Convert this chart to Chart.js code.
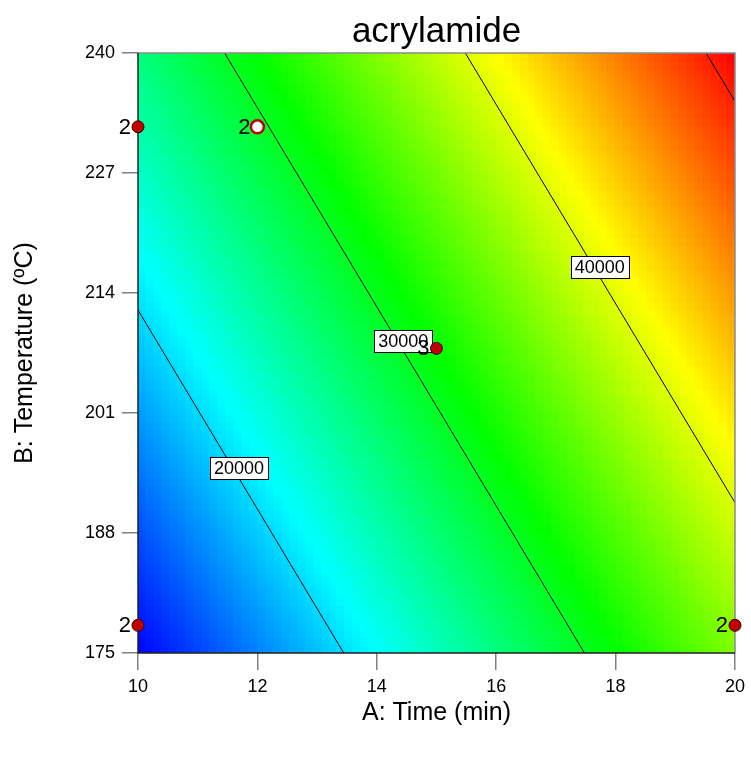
<!DOCTYPE html>
<html lang="en">
<head>
<meta charset="UTF-8" />
<title>acrylamide</title>
<script src="https://cdn.jsdelivr.net/npm/chart.js"></script>
<style>
    html, body { margin: 0; padding: 0; background: #fff; }
    #wrap { width: 751px; height: 784px; }
</style>
</head>
<body>
<div id="wrap"><canvas id="contourChart" width="751" height="784"></canvas></div>
<script>
// design runs: A = time (min), B = temperature (ºC), replicate count at each run
const runTime = [10, 12, 15, 10, 20];
const runTemp = [232, 232, 208, 178, 178];
const runReps = ['2', '2', '3', '2', '2'];
const runHollow = [false, true, false, false, false];

// fitted linear model: intercept, A coefficient, B coefficient
const fitCoef = [-53596, 2480, 230];
const contourLevels = [20000, 30000, 40000, 50000];
const labelledLevels = [20000, 30000, 40000];

const timeTicks = [10, 12, 14, 16, 18, 20];
const tempTicks = [175, 188, 201, 214, 227, 240];

const FONT = 'Arial, "Liberation Sans", Helvetica, sans-serif';

function fit(a, b) {
    return fitCoef[0] + fitCoef[1] * a + fitCoef[2] * b;
}

// blue -> cyan -> green -> yellow -> red
const rampStops = [[0, 0, 255], [0, 255, 255], [0, 255, 0], [255, 255, 0], [255, 0, 0]];
function rampColor(t) {
    t = Math.min(1, Math.max(0, t)) * (rampStops.length - 1);
    const i = Math.min(rampStops.length - 2, Math.floor(t));
    const f = t - i;
    const c = rampStops[i].map((v, k) => Math.round(v + (rampStops[i + 1][k] - v) * f));
    return `rgb(${c[0]},${c[1]},${c[2]})`;
}

// where a contour level crosses the edges of the design space
function contourSegment(level) {
    const [c, ka, kb] = fitCoef;
    const aMin = timeTicks[0], aMax = timeTicks[timeTicks.length - 1];
    const bMin = tempTicks[0], bMax = tempTicks[tempTicks.length - 1];
    const pts = [];
    [bMin, bMax].forEach(b => {
        const a = (level - c - kb * b) / ka;
        if (a >= aMin && a <= aMax) pts.push({ x: a, y: b });
    });
    [aMin, aMax].forEach(a => {
        const b = (level - c - ka * a) / kb;
        if (b > bMin && b < bMax) pts.push({ x: a, y: b });
    });
    return pts.sort((p, q) => q.y - p.y).slice(0, 2);
}

// temperature at which each contour label sits on its line
const labelTemp = { 20000: 195, 30000: 208.8, 40000: 216.8 };

const surfacePlugin = {
    id: 'surface',
    beforeDatasetsDraw(chart) {
        const { ctx, chartArea, scales: { x, y } } = chart;
        const n = 75;
        const da = (x.max - x.min) / n, db = (y.max - y.min) / n;
        const lo = fit(x.min, y.min), hi = fit(x.max, y.max);
        ctx.save();
        ctx.beginPath();
        ctx.rect(chartArea.left, chartArea.top, chartArea.right - chartArea.left, chartArea.bottom - chartArea.top);
        ctx.clip();
        for (let i = 0; i < n; i++) {
            const a0 = x.min + i * da;
            const px0 = Math.floor(x.getPixelForValue(a0));
            const px1 = Math.ceil(x.getPixelForValue(a0 + da));
            for (let j = 0; j < n; j++) {
                const b0 = y.min + j * db;
                const py0 = Math.floor(y.getPixelForValue(b0 + db));
                const py1 = Math.ceil(y.getPixelForValue(b0));
                ctx.fillStyle = rampColor((fit(a0 + da / 2, b0 + db / 2) - lo) / (hi - lo));
                ctx.fillRect(px0, py0, px1 - px0, py1 - py0);
            }
        }
        ctx.restore();
    },
    beforeDatasetDraw(chart, args) {
        if (args.index !== 0) return;
        const { ctx, chartArea: ca, scales: { x, y } } = chart;
        ctx.save();
        // frame
        ctx.lineWidth = 1.5;
        ctx.strokeStyle = '#8a8a8a';
        ctx.beginPath();
        ctx.moveTo(ca.left, ca.top); ctx.lineTo(ca.right, ca.top); ctx.lineTo(ca.right, ca.bottom);
        ctx.stroke();
        ctx.strokeStyle = '#202020';
        ctx.beginPath();
        ctx.moveTo(ca.left, ca.top); ctx.lineTo(ca.left, ca.bottom); ctx.lineTo(ca.right, ca.bottom);
        ctx.stroke();
        // contour labels, boxed, sitting just right of the line
        ctx.font = `18px ${FONT}`;
        ctx.textAlign = 'center';
        ctx.textBaseline = 'middle';
        labelledLevels.forEach(level => {
            const b = labelTemp[level];
            const a = (level - fitCoef[0] - fitCoef[2] * b) / fitCoef[1];
            const px = x.getPixelForValue(a) + 6, py = y.getPixelForValue(b);
            const txt = String(level);
            const w = Math.round(ctx.measureText(txt).width + 8), h = 22;
            const bx = Math.round(px - w / 2) + 0.5, by = Math.round(py - h / 2) + 0.5;
            ctx.fillStyle = '#fff';
            ctx.fillRect(bx, by, w, h);
            ctx.strokeStyle = '#000';
            ctx.lineWidth = 1;
            ctx.strokeRect(bx, by, w, h);
            ctx.fillStyle = '#000';
            ctx.fillText(txt, px, py + 1);
        });
        ctx.restore();
    },
    afterDatasetsDraw(chart) {
        const { ctx, scales: { x, y } } = chart;
        ctx.save();
        ctx.font = `22px ${FONT}`;
        ctx.fillStyle = '#000';
        ctx.textAlign = 'right';
        ctx.textBaseline = 'middle';
        runTime.forEach((a, i) => {
            ctx.fillText(runReps[i], x.getPixelForValue(a) - 7, y.getPixelForValue(runTemp[i]) + 1);
        });
        ctx.restore();
    }
};

const contourSets = contourLevels.map(level => ({
    type: 'line',
    data: contourSegment(level),
    borderColor: '#000',
    borderWidth: 1,
    pointRadius: 0,
    showLine: true,
    order: 1
}));

const runSet = {
    type: 'scatter',
    data: runTime.map((a, i) => ({ x: a, y: runTemp[i] })),
    pointRadius: runHollow.map(h => h ? 6.5 : 6),
    pointBackgroundColor: runHollow.map(h => h ? '#ffffff' : '#c00000'),
    pointBorderColor: runHollow.map(h => h ? '#c00000' : '#3a0000'),
    pointBorderWidth: runHollow.map(h => h ? 2.5 : 1),
    clip: false,
    order: 0
};

new Chart(document.getElementById('contourChart'), {
    type: 'scatter',
    data: { datasets: [runSet, ...contourSets] },
    options: {
        responsive: false,
        animation: false,
        events: [],
        layout: { padding: { left: 0, right: 13, top: 0, bottom: 0 } },
        plugins: {
            legend: { display: false },
            tooltip: { enabled: false },
            title: {
                display: true,
                text: 'acrylamide',
                fullSize: false,
                color: '#000',
                font: { family: FONT, size: 35, weight: 'normal' },
                padding: { top: 11, bottom: 0 }
            }
        },
        scales: {
            x: {
                type: 'linear',
                min: 10,
                max: 20,
                afterBuildTicks: s => { s.ticks = timeTicks.map(v => ({ value: v })); },
                afterFit: s => { s.height = 131; },
                ticks: { color: '#000', font: { family: FONT, size: 18 }, padding: 6 },
                grid: { drawOnChartArea: false, drawTicks: true, tickLength: 17, color: '#808080', lineWidth: 1.5 },
                border: { display: false },
                title: {
                    display: true,
                    text: 'A: Time (min)',
                    color: '#000',
                    font: { family: FONT, size: 25 },
                    padding: { top: 0, bottom: 56 }
                }
            },
            y: {
                type: 'linear',
                min: 175,
                max: 240,
                afterBuildTicks: s => { s.ticks = tempTicks.map(v => ({ value: v })); },
                afterFit: s => { s.width = 138; },
                ticks: { color: '#000', font: { family: FONT, size: 18 }, padding: 7 },
                grid: { drawOnChartArea: false, drawTicks: true, tickLength: 16, color: '#808080', lineWidth: 1.5 },
                border: { display: false },
                title: {
                    display: true,
                    text: 'B: Temperature (ºC)',
                    color: '#000',
                    font: { family: FONT, size: 25 },
                    padding: { top: 10, bottom: 0 }
                }
            }
        }
    },
    plugins: [surfacePlugin]
});
</script>
</body>
</html>
